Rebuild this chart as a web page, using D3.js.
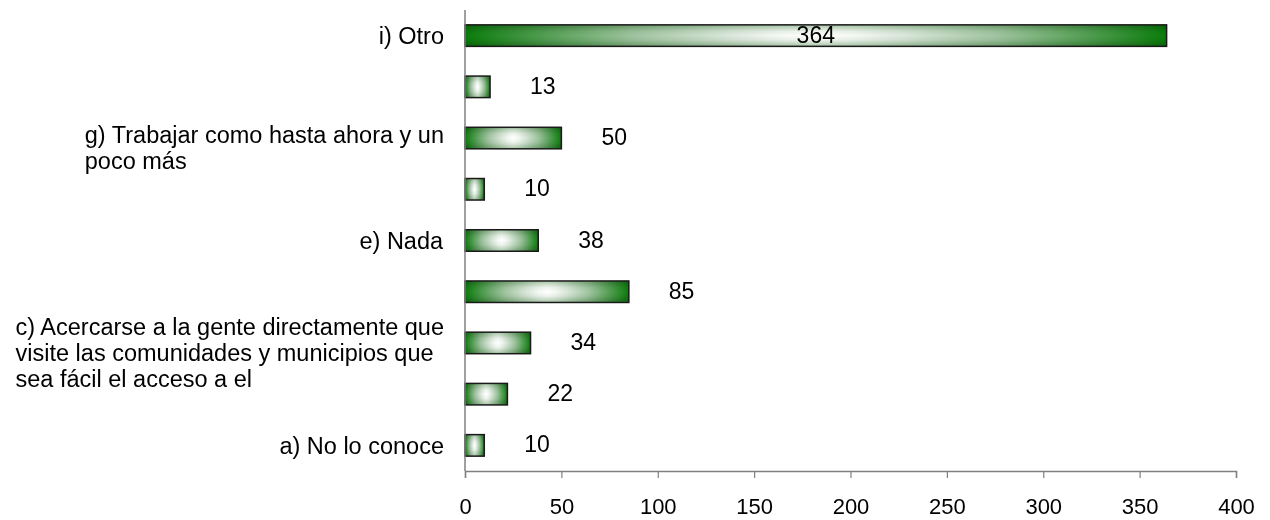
<!DOCTYPE html>
<html>
<head>
<meta charset="utf-8">
<script src="https://cdn.jsdelivr.net/npm/d3@7"></script>
<style>
  body { margin: 0; background: #fff; }
  text { font-family: "Liberation Sans", Arial, sans-serif; }
</style>
</head>
<body>
<script>
// categories bottom to top, labels only shown on every other one (like the original)
var categories = ['a', 'b', 'c', 'd', 'e', 'f', 'g', 'h', 'i'];
var labels = [
    'a) No lo conoce',
    '',
    'c) Acercarse a la gente directamente que|visite las comunidades y municipios que|sea fácil el acceso a el',
    '',
    'e) Nada',
    '',
    'g) Trabajar como hasta ahora y un|poco más',
    '',
    'i) Otro'
];
var values = [10, 22, 34, 85, 38, 10, 50, 13, 364];
var xTicks = [0, 50, 100, 150, 200, 250, 300, 350, 400];

var width = 1270, height = 520;
// note: "top" is taken by window.top, so use plot* names
var plotLeft = 465, plotRight = 1236, plotTop = 10, plotBottom = 471;

var svg = d3.select('body').append('svg')
    .attr('width', width)
    .attr('height', height);

var x = d3.scaleLinear().domain([0, 400]).range([plotLeft, plotRight]);
var y = d3.scaleBand().domain(categories.slice().reverse()).range([plotTop, plotBottom]).paddingInner(0.58).paddingOuter(0.29);

// gradients: horizontal green-white-green, plus a vertical one multiplied on top
var defs = svg.append('defs');
var hStops = [[0, '#0a7d0a'], [0.1, '#4a9a4a'], [0.24, '#a0c4a0'], [0.38, '#dde8dd'], [0.45, '#f6f9f6'], [0.5, '#ffffff']];
var hg = defs.append('linearGradient').attr('id', 'gh').attr('x1', 0).attr('x2', 1).attr('y1', 0).attr('y2', 0);
hStops.concat(hStops.slice(0, -1).reverse().map(function (s) { return [1 - s[0], s[1]]; }))
    .forEach(function (s) {
        hg.append('stop').attr('offset', s[0]).attr('stop-color', s[1]);
    });
var vg = defs.append('linearGradient').attr('id', 'gv').attr('x1', 0).attr('x2', 0).attr('y1', 0).attr('y2', 1);
[[0, '#a8c6a8'], [0.3, '#eef4ee'], [0.5, '#ffffff'], [0.7, '#eef4ee'], [1, '#a8c6a8']].forEach(function (s) {
    vg.append('stop').attr('offset', s[0]).attr('stop-color', s[1]);
});

var bars = svg.selectAll('g.bar')
    .data(categories)
    .enter().append('g')
    .attr('class', 'bar');

bars.append('rect')
    .attr('x', x(0))
    .attr('y', function (d) { return y(d); })
    .attr('width', function (d, i) { return x(values[i]) - x(0); })
    .attr('height', y.bandwidth())
    .attr('fill', 'url(#gh)');

bars.append('rect')
    .attr('x', x(0))
    .attr('y', function (d) { return y(d); })
    .attr('width', function (d, i) { return x(values[i]) - x(0); })
    .attr('height', y.bandwidth())
    .attr('fill', 'url(#gv)')
    .style('mix-blend-mode', 'multiply');

bars.append('rect')
    .attr('x', x(0))
    .attr('y', function (d) { return y(d); })
    .attr('width', function (d, i) { return x(values[i]) - x(0); })
    .attr('height', y.bandwidth())
    .attr('fill', 'none')
    .attr('stroke', '#1a1a1a')
    .attr('stroke-width', 1.5);

// value labels
svg.selectAll('text.val')
    .data(categories)
    .enter().append('text')
    .attr('class', 'val')
    .attr('x', function (d, i) {
        return values[i] > 300 ? (x(0) + x(values[i])) / 2 : x(values[i]) + 40;
    })
    .attr('y', function (d) { return y(d) + y.bandwidth() / 2 - 1; })
    .attr('dy', '0.35em')
    .attr('text-anchor', function (d, i) { return values[i] > 300 ? 'middle' : 'start'; })
    .style('font-size', '23px')
    .text(function (d, i) { return values[i]; });

// category labels (wrapped ones are left aligned inside their block)
var labelRight = 444, lineH = 26;
categories.forEach(function (d, i) {
    if (!labels[i]) return;
    var lines = labels[i].split('|');
    var cy = y(d) + y.bandwidth() / 2 + (lines.length > 1 ? 10 : 0);
    var t = svg.append('text')
        .style('font-size', '23.5px')
        .attr('y', cy - (lines.length - 1) * lineH / 2)
        .attr('dy', '0.35em');
    lines.forEach(function (l, j) {
        t.append('tspan').attr('x', 0).attr('dy', j ? lineH : null).text(l);
    });
    var bw = t.node().getBBox().width;
    t.selectAll('tspan').attr('x', labelRight - bw);
});

// axes
svg.append('line')
    .attr('x1', plotLeft).attr('x2', plotLeft)
    .attr('y1', plotTop).attr('y2', plotBottom)
    .attr('stroke', '#808080').attr('stroke-width', 1.5);

var xAxis = svg.append('g')
    .attr('transform', 'translate(0,' + plotBottom + ')')
    .call(d3.axisBottom(x).tickValues(xTicks).tickSize(7).tickPadding(20));
xAxis.select('.domain').attr('stroke', '#808080').attr('stroke-width', 1.5);
xAxis.selectAll('.tick line').attr('stroke', '#808080').attr('stroke-width', 1.2);
xAxis.selectAll('text')
    .style('font-family', '"Liberation Sans", Arial, sans-serif')
    .style('font-size', '22px')
    .attr('fill', '#000');
</script>
</body>
</html>
